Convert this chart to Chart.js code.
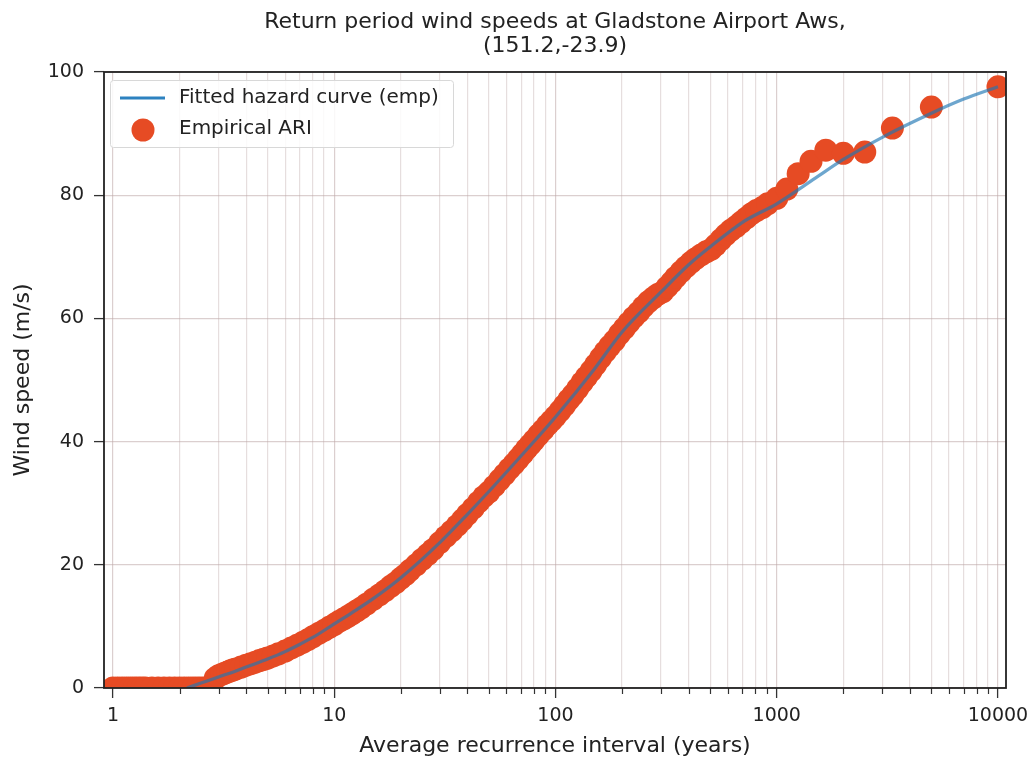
<!DOCTYPE html>
<html><head><meta charset="utf-8">
<script src="https://cdn.jsdelivr.net/npm/chart.js@4/dist/chart.umd.min.js"></script>
<style>html,body{margin:0;padding:0;background:#fff}</style>
</head><body>
<canvas id="c" width="1036" height="763"></canvas>
<script>
const titleLines = ['Return period wind speeds at Gladstone Airport Aws,', '(151.2,-23.9)'];
const xAxisTitle = 'Average recurrence interval (years)';
const yAxisTitle = 'Wind speed (m/s)';
const fitLabel = 'Fitted hazard curve (emp)';
const empLabel = 'Empirical ARI';

// fitted hazard curve
const fitARI   = [2.16, 2.5, 3, 3.5, 4, 5, 6, 7, 8, 10, 12, 15, 20, 30, 40, 50, 70, 100, 150, 200, 300, 400, 500, 700, 1000, 1500, 2000, 3000, 5000, 7000, 10000];
const fitSpeed = [0, 0.8, 1.8, 2.6, 3.4, 4.7, 5.9, 7.1, 8.2, 10.4, 12.2, 14.5, 17.9, 23.6, 28.2, 31.9, 37.7, 44.0, 51.8, 57.8, 64.3, 68.7, 71.6, 75.6, 78.6, 82.8, 85.8, 89.4, 93.3, 95.6, 97.6];

// empirical ARI points
const empARI = [1.0,1.05,1.1,1.15,1.2,1.25,1.3,1.35,1.4,1.5,1.6,1.7,1.8,1.9,2.0,2.1,2.2,2.3,2.4,2.5,2.6,2.7,2.8,
  2.9,3.0,3.1,3.2,3.3,3.4,3.5,3.6,3.8,4.0,4.2,4.4,4.6,4.8,5.0,5.3,5.6,6.0,6.4,6.8,7.2,7.6,8.0,8.5,9.0,9.5,
  10,10.5,11,11.5,12,12.6,13.2,14,15,16,17,18,19,20,21,22,23.5,25,26.5,28,30,32,34,36,38,40,42.5,45,47.5,
  50,53,56,59,62,65,68,71,74,77,80,84,88,92,96,100,105,110,115,120,126,132,138,145,152,160,168,176,185,195,
  205,215,226,238,250,263,276,290,305,320,335,350,370,390,410,430,455,480,505,530,560,590,620,655,690,730,770,810,860,910,
  1000,1111,1250,1429,1667,2000,2500,3333,5000,10000];
const empSpeed = [0,0,0,0,0,0,0,0,0,0,0,0,0,0,0,0,0,0,0,0,0,0,0,
  1.6,2.0,2.2,2.4,2.6,2.8,2.95,3.1,3.4,3.7,3.95,4.2,4.45,4.65,4.85,5.2,5.55,6.0,6.5,6.95,7.4,7.85,8.3,8.85,9.35,9.85,
  10.3,10.8,11.2,11.6,12.0,12.5,12.95,13.6,14.4,15.1,15.8,16.5,17.1,17.8,18.4,19.1,20.0,20.9,21.7,22.5,23.6,24.6,25.5,26.4,27.3,28.2,29.2,30.2,31.1,
  31.8,32.8,33.8,34.7,35.6,36.4,37.2,38.0,38.8,39.5,40.2,41.1,41.9,42.7,43.4,44.1,45.0,45.9,46.8,47.6,48.6,49.6,50.5,51.5,52.5,53.6,54.6,55.5,56.4,57.5,
  58.4,59.3,60.2,61.0,61.9,62.7,63.3,63.9,64.3,65.1,65.9,66.7,67.6,68.4,69.1,69.7,70.3,70.8,71.2,71.9,72.8,73.6,74.3,74.9,75.6,76.3,77.0,77.5,78.0,78.6,
  79.5,81.0,83.5,85.5,87.3,86.8,87.0,90.9,94.3,97.6];

const yTickValues = [0, 20, 40, 60, 80, 100];
const xMajorTicks = [1, 10, 100, 1000, 10000];
const xMin = 0.911, xMax = 10870;

const FONT = "'DejaVu Sans', sans-serif";
const TEXT = '#222';
const LINE_COLOR = 'rgba(31,119,180,0.65)';
const PT_COLOR = '#e64b24';
const PT_R = 11.5;

function buildTicks() {
  const out = [];
  for (let e = 0; e <= 4; e++) for (let m = 1; m <= 9; m++) {
    const v = m * Math.pow(10, e);
    if (v >= xMin && v <= xMax) out.push(v);
  }
  return out;
}
const xAllTicks = buildTicks();
const isMajor = v => xMajorTicks.some(t => Math.abs(t - v) < 1e-9);

const framePlugin = {
  id: 'frame',
  afterDraw(chart) {
    const {ctx, chartArea: a, scales} = chart;
    ctx.save();
    // minor tick marks
    ctx.strokeStyle = '#333'; ctx.lineWidth = 1.2;
    xAllTicks.forEach(v => {
      if (isMajor(v)) return;
      const x = Math.round(scales.x.getPixelForValue(v)) + 0.5;
      ctx.beginPath(); ctx.moveTo(x, a.bottom); ctx.lineTo(x, a.bottom + 6); ctx.stroke();
    });
    // frame
    ctx.strokeStyle = '#222'; ctx.lineWidth = 1.8;
    ctx.strokeRect(a.left, a.top, a.right - a.left, a.bottom - a.top);
    // title
    ctx.fillStyle = TEXT;
    ctx.font = '22px ' + FONT;
    ctx.textAlign = 'center'; ctx.textBaseline = 'middle';
    const cx = (a.left + a.right) / 2;
    ctx.fillText(titleLines[0], cx, 22);
    ctx.fillText(titleLines[1], cx, 46);
    // legend
    const lx = 110, ly = 80, lw = 343, lh = 67;
    ctx.fillStyle = 'rgba(255,255,255,0.85)';
    ctx.strokeStyle = '#d8d8d8'; ctx.lineWidth = 1;
    ctx.beginPath();
    if (ctx.roundRect) ctx.roundRect(lx + 0.5, ly + 0.5, lw, lh, 3); else ctx.rect(lx + 0.5, ly + 0.5, lw, lh);
    ctx.fill(); ctx.stroke();
    ctx.strokeStyle = 'rgb(45,130,192)'; ctx.lineWidth = 3.2;
    ctx.beginPath(); ctx.moveTo(120, 98); ctx.lineTo(165, 98); ctx.stroke();
    ctx.fillStyle = PT_COLOR;
    ctx.beginPath(); ctx.arc(143, 130, PT_R, 0, Math.PI * 2); ctx.fill();
    ctx.fillStyle = TEXT; ctx.textAlign = 'left';
    ctx.font = '20px ' + FONT;
    ctx.fillText(fitLabel, 179, 98);
    ctx.fillText(empLabel, 179, 129);
    ctx.restore();
  }
};

const fitData = fitARI.map((x, i) => ({x, y: fitSpeed[i]}));
const empData = empARI.map((x, i) => ({x, y: empSpeed[i]}));

new Chart(document.getElementById('c'), {
  type: 'scatter',
  data: {
    datasets: [
      {label: fitLabel, data: fitData, showLine: true, borderColor: LINE_COLOR, borderWidth: 3.2,
       pointRadius: 0, cubicInterpolationMode: 'monotone', order: 0, clip: 0},
      {label: empLabel, data: empData, backgroundColor: PT_COLOR, borderWidth: 0,
       pointRadius: PT_R, pointHoverRadius: PT_R, order: 1, clip: 0}
    ]
  },
  options: {
    responsive: false, animation: false, devicePixelRatio: 1,
    layout: {padding: {top: 72, right: 30, left: 0, bottom: 0}},
    plugins: {legend: {display: false}, title: {display: false}, tooltip: {enabled: false}},
    scales: {
      x: {
        type: 'logarithmic', min: xMin, max: xMax,
        afterBuildTicks: s => { s.ticks = xAllTicks.map(v => ({value: v, major: isMajor(v)})); },
        afterFit: s => { s.height = 75; },
        ticks: {autoSkip: false, maxRotation: 0, color: TEXT, padding: 7,
                font: {family: FONT, size: 19},
                callback: v => isMajor(v) ? String(v) : ''},
        grid: {color: c => (c.tick && isMajor(c.tick.value)) ? 'rgba(190,168,168,0.55)' : 'rgba(200,182,182,0.45)',
               lineWidth: 1.2, tickLength: 10,
               tickColor: c => (c.tick && isMajor(c.tick.value)) ? '#333' : 'rgba(0,0,0,0)', tickWidth: 1.3},
        border: {display: false},
        title: {display: true, text: xAxisTitle, color: TEXT, font: {family: FONT, size: 22}, padding: {top: 0, bottom: 4}}
      },
      y: {
        min: 0, max: 100,
        afterBuildTicks: s => { s.ticks = yTickValues.map(v => ({value: v})); },
        afterFit: s => { s.width = 104; },
        ticks: {color: TEXT, padding: 10, font: {family: FONT, size: 19}},
        grid: {color: 'rgba(190,168,168,0.55)', lineWidth: 1.2, tickLength: 10, tickColor: '#333', tickWidth: 1.3},
        border: {display: false},
        title: {display: true, text: yAxisTitle, color: TEXT, font: {family: FONT, size: 22}, padding: {top: 10, bottom: 0}}
      }
    }
  },
  plugins: [framePlugin]
});
</script>
</body></html>
